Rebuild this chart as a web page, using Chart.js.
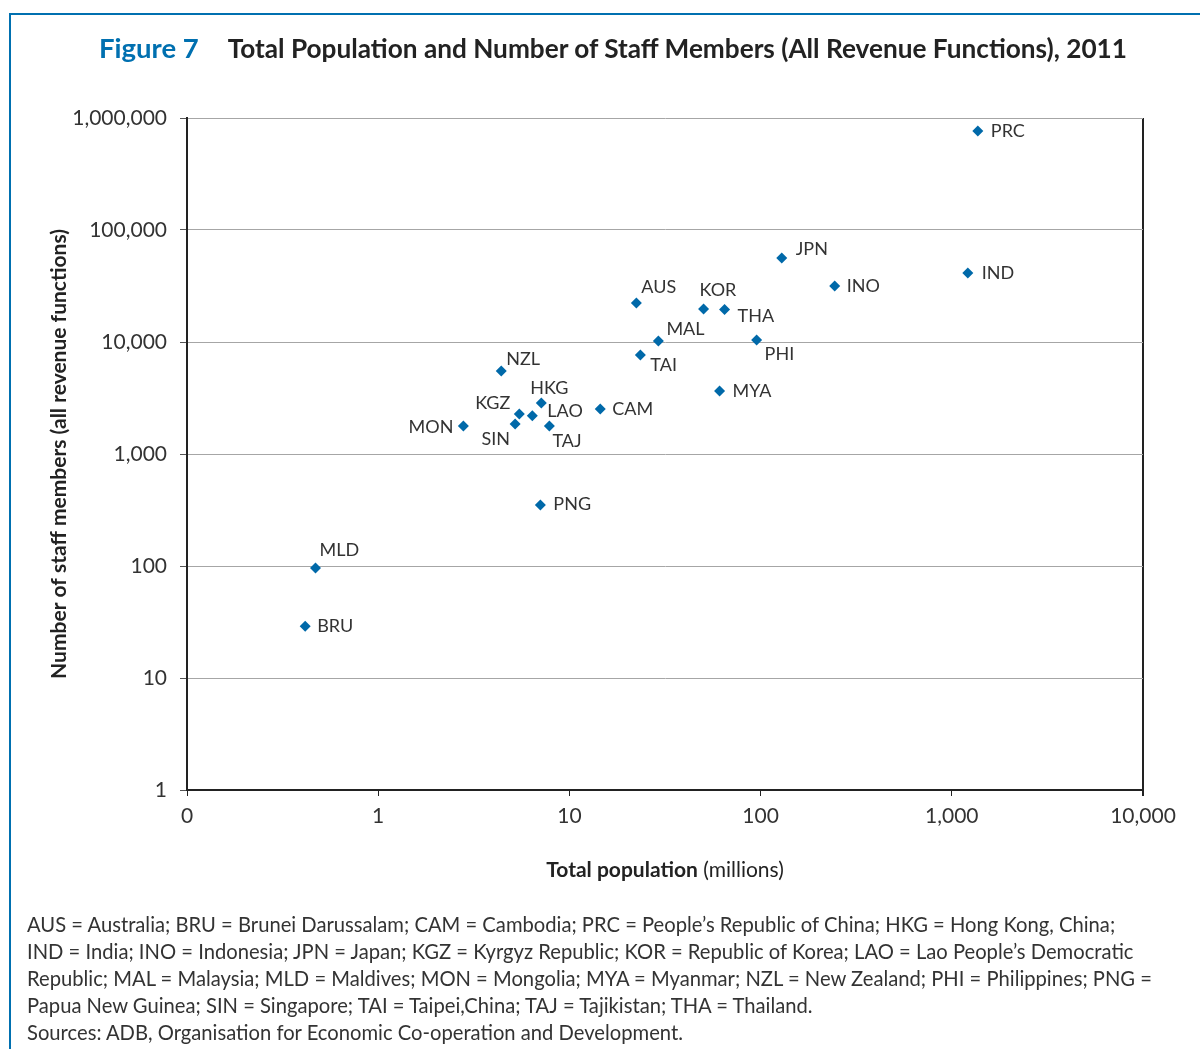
<!DOCTYPE html>
<html>
<head>
<meta charset="utf-8">
<script src="https://cdn.jsdelivr.net/npm/chart.js@4"></script>
<style>
  body { margin: 0; background: #fff; font-family: Lato, sans-serif; color: #333; }
  #wrap { position: relative; width: 1200px; height: 1049px; overflow: hidden; }
  #frame { position: absolute; left: 9px; top: 13px; right: -5px; bottom: -5px;
           border-top: 2px solid #0070b0; border-left: 2px solid #0070b0; }
  canvas { position: absolute; left: 0; top: 0; }
  #title { position: absolute; left: 99px; top: 31px; font-size: 26.2px; font-weight: bold; white-space: nowrap; color: #222; }
  #title .fig { color: #0070b0; font-size: 27.5px; margin-right: 29px; }
  #xtitle { position: absolute; left: 0; width: 1330px; top: 856px; text-align: center; font-size: 21px; color: #222; }
  #notes { position: absolute; left: 27px; top: 911px; font-size: 20.2px; line-height: 27px; color: #333; white-space: nowrap; }
</style>
</head>
<body>
<div id="wrap">
  <div id="frame"></div>
  <canvas id="chart" width="1200" height="1049"></canvas>
  <div id="title"><span class="fig">Figure 7</span>Total Population and Number of Staff Members (All Revenue Functions), 2011</div>
  <div id="xtitle"><b>Total population</b> (millions)</div>
  <div id="notes">
    AUS = Australia; BRU = Brunei Darussalam; CAM = Cambodia; PRC = People’s Republic of China; HKG = Hong Kong, China;<br>
    IND = India; INO = Indonesia; JPN = Japan; KGZ = Kyrgyz Republic; KOR = Republic of Korea; LAO = Lao People’s Democratic<br>
    Republic; MAL = Malaysia; MLD = Maldives; MON = Mongolia; MYA = Myanmar; NZL = New Zealand; PHI = Philippines; PNG =<br>
    Papua New Guinea; SIN = Singapore; TAI = Taipei,China; TAJ = Tajikistan; THA = Thailand.<br>
    Sources: ADB, Organisation for Economic Co-operation and Development.
  </div>
</div>
<script>
// economy codes, population (millions), staff members (all revenue functions)
const codes = ['PRC', 'JPN', 'IND', 'INO', 'AUS', 'KOR', 'THA', 'MAL', 'PHI', 'TAI', 'NZL',
  'MYA', 'HKG', 'CAM', 'KGZ', 'LAO', 'SIN', 'MON', 'TAJ', 'PNG', 'MLD', 'BRU'];
const population = [1368, 129, 1213, 244, 22.4, 50.3, 64.8, 29.2, 95.3, 23.5, 4.4,
  61, 7.13, 14.5, 5.47, 6.4, 5.2, 2.79, 7.86, 7.05, 0.47, 0.415];
const staff = [765000, 56200, 41300, 31600, 22300, 19700, 19500, 10200, 10400, 7650, 5510,
  3650, 2850, 2520, 2280, 2190, 1850, 1780, 1780, 351, 96, 29];

const xTicks = [0.1, 1, 10, 100, 1000, 10000];
const xTickLabels = ['0', '1', '10', '100', '1,000', '10,000'];
const yTicks = [1, 10, 100, 1000, 10000, 100000, 1000000];
const yTickLabels = ['1', '10', '100', '1,000', '10,000', '100,000', '1,000,000'];

const blue = '#0069a9';
const ink = '#333';

// where each code label sits relative to its marker: [dx, dy, align]
const labelOffsets = {
  PRC: [13, 0, 'left'], JPN: [14, -9, 'left'], IND: [14, 0, 'left'], INO: [12, 0, 'left'],
  AUS: [5, -16, 'left'], KOR: [-4, -19, 'left'], THA: [13, 7, 'left'], MAL: [8, -12, 'left'],
  PHI: [8, 14, 'left'], TAI: [10, 10, 'left'], NZL: [5, -12, 'left'], MYA: [13, 0, 'left'],
  HKG: [-11, -15, 'left'], CAM: [12, 0, 'left'], KGZ: [-9, -11, 'right'], LAO: [15, -5, 'left'],
  SIN: [-5, 15, 'right'], MON: [-10, 1, 'right'], TAJ: [3, 15, 'left'], PNG: [13, -1, 'left'],
  MLD: [4, -18, 'left'], BRU: [12, 0, 'left'],
};

const pointLabels = {
  id: 'pointLabels',
  afterDatasetsDraw(chart) {
    const c = chart.ctx;
    const meta = chart.getDatasetMeta(0);
    c.save();
    c.font = '18px Lato';
    c.fillStyle = ink;
    c.textBaseline = 'middle';
    meta.data.forEach((pt, i) => {
      const [dx, dy, align] = labelOffsets[codes[i]];
      c.textAlign = align;
      c.fillText(codes[i], pt.x + dx, pt.y + dy);
    });
    c.restore();
  }
};

const tickFont = { family: 'Lato', size: 21 };

new Chart(document.getElementById('chart'), {
  type: 'scatter',
  data: {
    datasets: [{
      data: codes.map((c, i) => ({ x: population[i], y: staff[i] })),
      pointStyle: 'rectRot',
      pointRadius: 5.5,
      backgroundColor: blue,
      borderColor: blue,
      borderWidth: 0,
    }]
  },
  options: {
    responsive: false,
    animation: false,
    layout: { padding: { left: 0, top: 118, right: 57, bottom: 159 } },
    plugins: { legend: { display: false }, tooltip: { enabled: false } },
    scales: {
      x: {
        type: 'logarithmic',
        min: 0.1,
        max: 10000,
        afterBuildTicks: (s) => { s.ticks = xTicks.map(v => ({ value: v })); },
        afterFit: (s) => { s.height = 100; },
        ticks: {
          autoSkip: false, maxRotation: 0, padding: 8, color: ink, font: tickFont,
          callback: (v, i) => xTickLabels[i],
        },
        grid: {
          color: (ctx) => ctx.tick && ctx.tick.value === 10000 ? '#222' : 'rgba(0,0,0,0)',
          lineWidth: (ctx) => ctx.tick && ctx.tick.value === 10000 ? 2 : 1,
          tickColor: '#222',
          tickLength: 6,
        },
        border: { color: '#222', width: 2 },
      },
      y: {
        type: 'logarithmic',
        min: 1,
        max: 1000000,
        afterBuildTicks: (s) => { s.ticks = yTicks.map(v => ({ value: v })); },
        afterFit: (s) => { s.width = 187; },
        ticks: {
          autoSkip: false, padding: 13, color: ink, font: tickFont,
          callback: (v, i) => yTickLabels[i],
        },
        grid: { color: '#a6a6a6', lineWidth: 1, tickColor: '#555', tickLength: 7 },
        border: { color: '#222', width: 2 },
        title: {
          display: true,
          text: 'Number of staff members (all revenue functions)',
          color: '#222',
          font: { family: 'Lato', size: 21, weight: 'bold' },
          padding: { top: 47, bottom: 0 },
        },
      },
    },
  },
  plugins: [pointLabels],
});
</script>
</body>
</html>
